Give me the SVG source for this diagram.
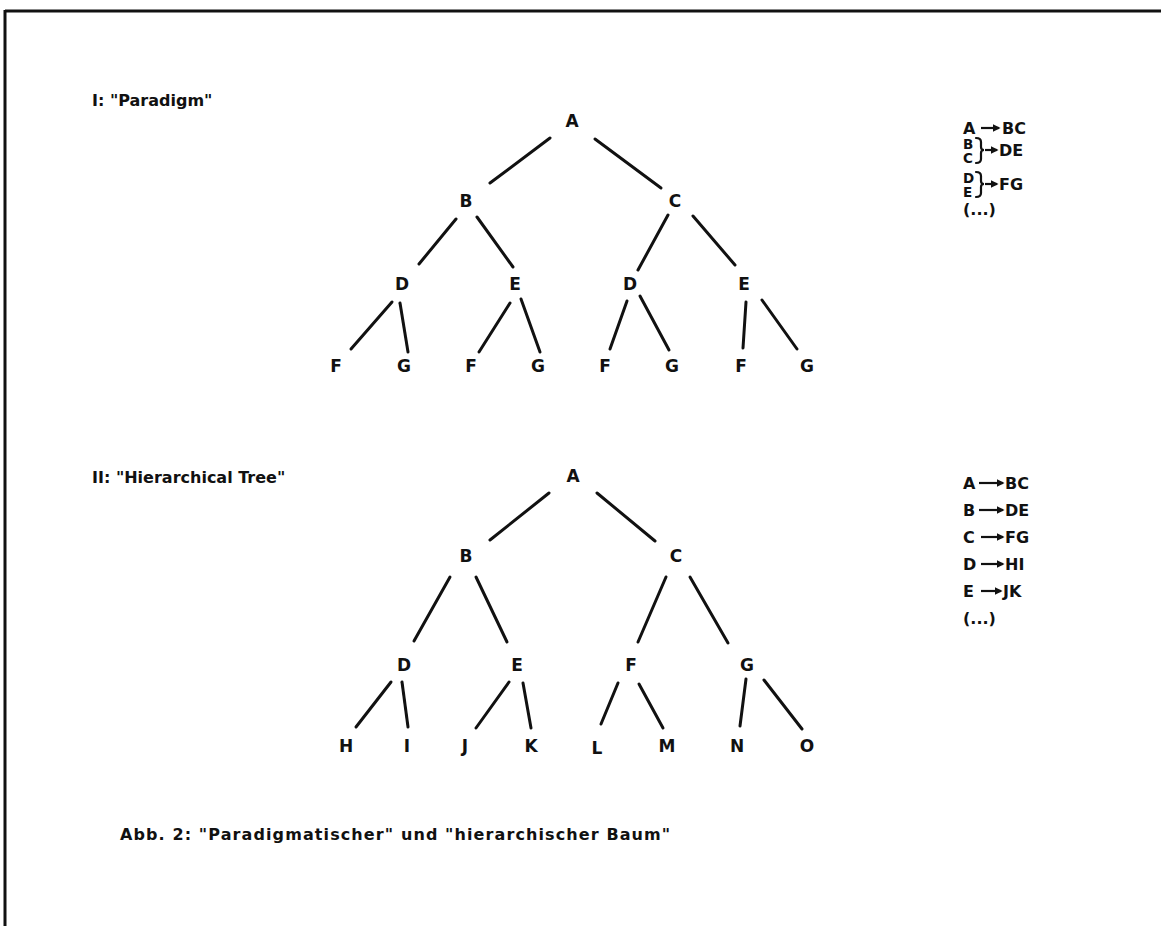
<svg xmlns="http://www.w3.org/2000/svg" width="1161" height="926" viewBox="0 0 1161 926">
<style>
  .bg { fill: #ffffff; }
  .frame { stroke: #111; stroke-width: 3; fill: none; }
  .edge { stroke: #111; stroke-width: 3; stroke-linecap: round; fill: none; }
  .node { font-family: "DejaVu Sans", "Liberation Sans", sans-serif; font-weight: bold; font-size: 17px; fill: #111; text-anchor: middle; }
  .label { font-family: "DejaVu Sans", "Liberation Sans", sans-serif; font-weight: bold; font-size: 16px; fill: #111; }
  .rule { font-family: "DejaVu Sans", "Liberation Sans", sans-serif; font-weight: bold; font-size: 16px; fill: #111; }
  .stack { font-family: "DejaVu Sans", "Liberation Sans", sans-serif; font-weight: bold; font-size: 13.5px; fill: #111; }
  .arrow { stroke: #111; stroke-width: 2.2; fill: none; marker-end: url(#ah); }
  .brace { stroke: #111; stroke-width: 2.2; fill: none; stroke-linecap: round; }
  .caption { font-family: "DejaVu Sans", "Liberation Sans", sans-serif; font-weight: bold; font-size: 16px; letter-spacing: 1.1px; fill: #111; }
</style>
<defs>
  <marker id="ah" viewBox="0 0 10 10" refX="8" refY="5" markerWidth="3.6" markerHeight="3.6" orient="auto" markerUnits="strokeWidth">
    <path d="M0,0 L10,5 L0,10 z" fill="#111"/>
  </marker>
</defs>
<rect class="bg" x="0" y="0" width="1161" height="926"/>
<g id="frame">
  <line class="frame" x1="5" y1="11" x2="1161" y2="11"/>
  <line class="frame" x1="5" y1="10" x2="5" y2="926"/>
</g>

<g id="title-1"><text class="label" x="92" y="106">I:  "Paradigm"</text></g>
<g id="title-2"><text class="label" x="92" y="483">II:  "Hierarchical Tree"</text></g>

<g id="connectors">
  <!-- Tree I -->
  <line class="edge" x1="550" y1="138" x2="490" y2="183"/>
  <line class="edge" x1="595" y1="139" x2="661" y2="188"/>
  <line class="edge" x1="456" y1="219" x2="419" y2="264"/>
  <line class="edge" x1="477" y1="217" x2="513" y2="267"/>
  <line class="edge" x1="668" y1="215" x2="638" y2="270"/>
  <line class="edge" x1="693" y1="216" x2="735" y2="265"/>
  <line class="edge" x1="392" y1="302" x2="351" y2="349"/>
  <line class="edge" x1="400" y1="303" x2="408" y2="352"/>
  <line class="edge" x1="510" y1="303" x2="479" y2="352"/>
  <line class="edge" x1="521" y1="299" x2="540" y2="352"/>
  <line class="edge" x1="627" y1="301" x2="610" y2="349"/>
  <line class="edge" x1="640" y1="296" x2="669" y2="350"/>
  <line class="edge" x1="746" y1="302" x2="743" y2="348"/>
  <line class="edge" x1="762" y1="300" x2="797" y2="349"/>
  <!-- Tree II -->
  <line class="edge" x1="549" y1="493" x2="490" y2="540"/>
  <line class="edge" x1="597" y1="493" x2="655" y2="541"/>
  <line class="edge" x1="450" y1="577" x2="414" y2="641"/>
  <line class="edge" x1="476" y1="577" x2="507" y2="642"/>
  <line class="edge" x1="666" y1="577" x2="638" y2="642"/>
  <line class="edge" x1="690" y1="577" x2="728" y2="643"/>
  <line class="edge" x1="391" y1="682" x2="356" y2="727"/>
  <line class="edge" x1="402" y1="682" x2="408" y2="727"/>
  <line class="edge" x1="509" y1="682" x2="476" y2="728"/>
  <line class="edge" x1="523" y1="683" x2="531" y2="728"/>
  <line class="edge" x1="618" y1="683" x2="601" y2="724"/>
  <line class="edge" x1="639" y1="684" x2="663" y2="728"/>
  <line class="edge" x1="746" y1="679" x2="740" y2="726"/>
  <line class="edge" x1="764" y1="680" x2="802" y2="729"/>
</g>

<!-- Tree I nodes -->
<g id="t1-A"><text class="node" x="572" y="127">A</text></g>
<g id="t1-B"><text class="node" x="466" y="207">B</text></g>
<g id="t1-C"><text class="node" x="675" y="207">C</text></g>
<g id="t1-D1"><text class="node" x="402" y="290">D</text></g>
<g id="t1-E1"><text class="node" x="515" y="290">E</text></g>
<g id="t1-D2"><text class="node" x="630" y="290">D</text></g>
<g id="t1-E2"><text class="node" x="744" y="290">E</text></g>
<g id="t1-F1"><text class="node" x="336" y="372">F</text></g>
<g id="t1-G1"><text class="node" x="404" y="372">G</text></g>
<g id="t1-F2"><text class="node" x="471" y="372">F</text></g>
<g id="t1-G2"><text class="node" x="538" y="372">G</text></g>
<g id="t1-F3"><text class="node" x="605" y="372">F</text></g>
<g id="t1-G3"><text class="node" x="672" y="372">G</text></g>
<g id="t1-F4"><text class="node" x="741" y="372">F</text></g>
<g id="t1-G4"><text class="node" x="807" y="372">G</text></g>

<!-- Tree II nodes -->
<g id="t2-A"><text class="node" x="573" y="482">A</text></g>
<g id="t2-B"><text class="node" x="466" y="562">B</text></g>
<g id="t2-C"><text class="node" x="676" y="562">C</text></g>
<g id="t2-D"><text class="node" x="404" y="671">D</text></g>
<g id="t2-E"><text class="node" x="517" y="671">E</text></g>
<g id="t2-F"><text class="node" x="631" y="671">F</text></g>
<g id="t2-G"><text class="node" x="747" y="671">G</text></g>
<g id="t2-H"><text class="node" x="346" y="752">H</text></g>
<g id="t2-I"><text class="node" x="407" y="752">I</text></g>
<g id="t2-J"><text class="node" x="465" y="752">J</text></g>
<g id="t2-K"><text class="node" x="531" y="752">K</text></g>
<g id="t2-L"><text class="node" x="597" y="754">L</text></g>
<g id="t2-M"><text class="node" x="667" y="752">M</text></g>
<g id="t2-N"><text class="node" x="737" y="752">N</text></g>
<g id="t2-O"><text class="node" x="807" y="752">O</text></g>

<!-- Rules I -->
<g id="rules-1">
  <text class="rule" x="963" y="134">A</text>
  <line class="arrow" x1="981" y1="128" x2="999" y2="128"/>
  <text class="rule" x="1002" y="134">BC</text>
  <text class="stack" x="963" y="149">B</text>
  <text class="stack" x="963" y="163">C</text>
  <path class="brace" d="M976,138 Q981,138 981,142 L981,147 Q981,150 984,150 Q981,150 981,153 L981,159 Q981,163 976,163"/>
  <line class="arrow" x1="985" y1="150" x2="997" y2="150"/>
  <text class="rule" x="999" y="156">DE</text>
  <text class="stack" x="963" y="183">D</text>
  <text class="stack" x="963" y="197">E</text>
  <path class="brace" d="M976,172 Q981,172 981,176 L981,181 Q981,184 984,184 Q981,184 981,187 L981,193 Q981,197 976,197"/>
  <line class="arrow" x1="985" y1="184" x2="997" y2="184"/>
  <text class="rule" x="999" y="190">FG</text>
  <text class="rule" x="963" y="215">(...)</text>
</g>

<!-- Rules II -->
<g id="rules-2">
  <text class="rule" x="963" y="489">A</text>
  <line class="arrow" x1="979" y1="483" x2="1003" y2="483"/>
  <text class="rule" x="1005" y="489">BC</text>
  <text class="rule" x="963" y="516">B</text>
  <line class="arrow" x1="979" y1="510" x2="1003" y2="510"/>
  <text class="rule" x="1005" y="516">DE</text>
  <text class="rule" x="963" y="543">C</text>
  <line class="arrow" x1="981" y1="537" x2="1003" y2="537"/>
  <text class="rule" x="1005" y="543">FG</text>
  <text class="rule" x="963" y="570">D</text>
  <line class="arrow" x1="981" y1="564" x2="1003" y2="564"/>
  <text class="rule" x="1005" y="570">HI</text>
  <text class="rule" x="963" y="597">E</text>
  <line class="arrow" x1="981" y1="591" x2="1001" y2="591"/>
  <text class="rule" x="1003" y="597">JK</text>
  <text class="rule" x="963" y="624">(...)</text>
</g>

<g id="caption"><text class="caption" x="120" y="840">Abb. 2: "Paradigmatischer" und "hierarchischer Baum"</text></g>
</svg>
